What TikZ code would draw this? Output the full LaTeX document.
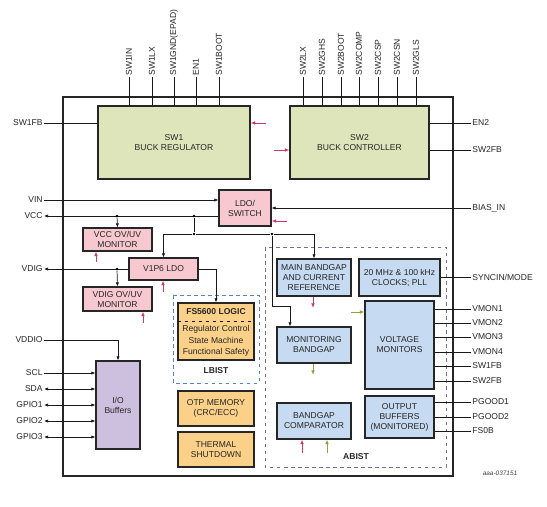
\documentclass[tikz,border=0pt]{standalone}
\usepackage{fontspec}
\setmainfont{Liberation Sans}
\usetikzlibrary{arrows.meta,positioning}
\definecolor{swgreen}{HTML}{DEE5BB}
\definecolor{ldopink}{HTML}{F7C8CF}
\definecolor{refblue}{HTML}{C6DAF1}
\definecolor{logicorange}{HTML}{FBD089}
\definecolor{iopurple}{HTML}{CDBFDE}
\definecolor{fltred}{HTML}{D0386C}
\definecolor{okgreen}{HTML}{939F3C}
\definecolor{lbistblue}{HTML}{4F86C2}
\definecolor{abistpurple}{HTML}{7E6A9E}

\begin{document}
\begin{tikzpicture}[x=0.03cm, y=-0.03cm, font=\fontsize{7.3}{8.6}\selectfont,
  box/.style 2 args={draw=black!85, line width=0.9pt, minimum width=#1*0.03cm,
    minimum height=#2*0.03cm, inner sep=0pt, align=center, text=black!85},
  pinlbl/.style={inner sep=1pt, text=black!85},
  ln/.style={draw=black!90, line width=0.6pt},
  arr/.style={ln, -{Latex[length=3.5pt,width=2.8pt]}},
  darr/.style={ln, {Latex[length=3.5pt,width=2.8pt]}-{Latex[length=3.5pt,width=2.8pt]}},
  redarr/.style={draw=fltred, line width=0.75pt, -{Latex[length=4pt,width=3.2pt]}},
  grnarr/.style={draw=okgreen, line width=0.75pt, -{Latex[length=4pt,width=3.2pt]}},
  dot/.style={circle, fill=black, inner sep=0.8pt}]
  \useasboundingbox (0,0) rectangle (547,507);

  % chip outline
  \draw[line width=1.1pt, black!85] (63,97) rectangle (453,476);

  % switcher blocks
  \node[box={152}{73}, fill=swgreen] (sw1) at (174,142.5) {SW1\\BUCK REGULATOR};
  \node[box={139}{73}, fill=swgreen] (sw2) at (359.5,142.5) {SW2\\BUCK CONTROLLER};

  % supply blocks
  \node[box={52}{36}, fill=ldopink] (ldo) at (245,208) {LDO/\\SWITCH};
  \node[box={69}{23}, fill=ldopink] (vccmon) at (117.5,239.5) {VCC OV/UV\\MONITOR};
  \node[box={69}{22}, fill=ldopink] (v1p6) at (163.5,269) {V1P6 LDO};
  \node[box={69}{24}, fill=ldopink] (vdigmon) at (117.5,299) {VDIG OV/UV\\MONITOR};

  % digital core
  \draw[lbistblue, dashed, line width=0.7pt] (173,295) rectangle (259,383);
  \node[box={76}{57}, fill=logicorange] (logic) at (216,331.5) {};
  \draw[ln, dashed, line width=0.8pt] (logic.west |- 0,321) -- (logic.east |- 0,321);
  \node[pinlbl, font=\fontsize{7.3}{8.6}\selectfont\bfseries] (logictitle) at (216,312) {FS5600 LOGIC};
  \node[pinlbl, align=center, font=\fontsize{7.3}{10}\selectfont] (logicbody) at (216,341)
    {Regulator Control\\State Machine\\Functional Safety};
  \node[pinlbl, font=\fontsize{7.3}{8.6}\selectfont\bfseries] (lbist) at (216,371) {LBIST};
  \node[box={76}{35}, fill=logicorange] (otp) at (216,408.5) {OTP MEMORY\\(CRC/ECC)};
  \node[box={76}{35}, fill=logicorange] (tsd) at (216,449.5) {THERMAL\\SHUTDOWN};

  % I/O
  \node[box={44}{88}, fill=iopurple] (io) at (118,405) {I/O\\Buffers};

  % analog BIST area
  \draw[abistpurple, dashed, line width=0.7pt] (265,247) rectangle (446,467);
  \node[pinlbl, font=\fontsize{7.3}{8.6}\selectfont\bfseries] (abist) at (356,457) {ABIST};
  \node[box={74}{37}, fill=refblue] (mainbg) at (314,277.5) {MAIN BANDGAP\\AND CURRENT\\REFERENCE};
  \node[box={81}{37}, fill=refblue] (clk) at (399.5,277.5) {20 MHz \& 100 kHz\\CLOCKS; PLL};
  \node[box={74}{36}, fill=refblue] (monbg) at (314,345) {MONITORING\\BANDGAP};
  \node[box={74}{36}, fill=refblue] (bgcomp) at (314,421) {BANDGAP\\COMPARATOR};
  \node[box={69}{88}, fill=refblue] (vmons) at (399.5,345) {VOLTAGE\\MONITORS};
  \node[box={69}{42}, fill=refblue] (outbuf) at (399.5,417) {OUTPUT\\BUFFERS\\(MONITORED)};

  % top pins
  \foreach \x/\t [count=\i] in {129/SW1IN, 152/SW1LX, 174/SW1GND(EPAD), 196/EN1, 219/SW1BOOT} {
    \node[pinlbl, rotate=90, anchor=west] (ta\i) at (\x,77) {\t};
    \draw[ln] (ta\i.west) -- (ta\i.west |- sw1.north);
  }
  \foreach \x/\t [count=\i] in {303/SW2LX, 322/SW2GHS, 341/SW2BOOT, 359/SW2COMP, 378/SW2CSP, 397/SW2CSN, 416/SW2GLS} {
    \node[pinlbl, rotate=90, anchor=west] (tb\i) at (\x,77) {\t};
    \draw[ln] (tb\i.west) -- (tb\i.west |- sw2.north);
  }

  % switcher side pins
  \node[pinlbl, anchor=east] (sw1fb) at (44,123) {SW1FB};
  \draw[ln] (sw1fb.east) -- (sw1fb.east -| sw1.west);
  \node[pinlbl, anchor=west] (en2) at (471,123) {EN2};
  \draw[ln] (en2.west) -- (en2.west -| sw2.east);
  \node[pinlbl, anchor=west] (sw2fb) at (471,150) {SW2FB};
  \draw[ln] (sw2fb.west) -- (sw2fb.west -| sw2.east);
  \coordinate (f1) at (266,123);
  \coordinate (f2) at (274,150);
  \draw[redarr] (f1) -- (f1 -| sw1.east);
  \draw[redarr] (f2) -- (f2 -| sw2.west);

  % supply path
  \node[pinlbl, anchor=east] (vin) at (44,200) {VIN};
  \draw[arr] (vin.east) -- (vin.east -| ldo.west);
  \node[pinlbl, anchor=east] (vcc) at (44,216) {VCC};
  \draw[arr] (vcc.east -| ldo.west) -- (vcc.east);
  \node[pinlbl, anchor=west] (biasin) at (471,208) {BIAS\_IN};
  \draw[arr] (biasin.west) -- (biasin.west -| ldo.east);
  \coordinate (f3) at (287,221);
  \draw[redarr] (f3) -- (f3 -| ldo.east);

  \node[dot] (d1) at (117,216) {};
  \node[dot] (d2) at (194,216) {};
  \node[dot] (d3) at (194,234) {};
  \node[dot] (d4) at (272,234) {};
  \draw[arr] (d1) -- (vccmon.north);
  \draw[ln] (d2) -- (d3);
  \draw[arr] (d3) -| (v1p6.north);
  \draw[ln] (d3) -- (d4);
  \draw[arr] (d4) -| (mainbg.north);
  \coordinate (mb) at (290,306);
  \draw[arr] (d4) |- (mb) -- (mb |- monbg.north);

  \node[pinlbl, anchor=east] (vdig) at (44,269) {VDIG};
  \draw[arr] (v1p6.west) -- (vdig.east);
  \node[dot] (d5) at (117,269) {};
  \draw[arr] (d5) -- (vdigmon.north);
  \draw[arr] (v1p6.east) -| (logic.north);

  \coordinate (f4) at (96,262);
  \coordinate (f5) at (163,292);
  \coordinate (f6) at (143,323);
  \draw[redarr] (f4) -- (f4 |- vccmon.south);
  \draw[redarr] (f5) -- (f5 |- v1p6.south);
  \draw[redarr] (f6) -- (f6 |- vdigmon.south);

  % I/O pins
  \node[pinlbl, anchor=east] (vddio) at (44,340) {VDDIO};
  \draw[arr] (vddio.east) -| (io.north);
  \node[pinlbl, anchor=east] (scl) at (44,373) {SCL};
  \draw[arr] (scl.east) -- (scl.east -| io.west);
  \foreach \y/\t [count=\i] in {389/SDA, 405/GPIO1, 421/GPIO2, 437/GPIO3} {
    \node[pinlbl, anchor=east] (gp\i) at (44,\y) {\t};
    \draw[darr] (gp\i.east) -- (gp\i.east -| io.west);
  }

  % ABIST status arrows
  \coordinate (f7) at (313,308);
  \coordinate (f8) at (313,375);
  \coordinate (f9) at (351,312);
  \coordinate (f10) at (302,453);
  \coordinate (f11) at (327,453);
  \draw[redarr] (f7 |- mainbg.south) -- (f7);
  \draw[grnarr] (f8 |- monbg.south) -- (f8);
  \draw[grnarr] (f9) -- (f9 -| vmons.west);
  \draw[redarr] (f10) -- (f10 |- bgcomp.south);
  \draw[grnarr] (f11) -- (f11 |- bgcomp.south);

  % right side pins
  \node[pinlbl, anchor=west] (sync) at (471,277) {SYNCIN/MODE};
  \draw[ln] (sync.west) -- (sync.west -| clk.east);
  \foreach \y/\t [count=\i] in {309/VMON1, 323/VMON2, 337/VMON3, 352/VMON4, 366/SW1FB, 381/SW2FB} {
    \node[pinlbl, anchor=west] (vm\i) at (471,\y) {\t};
    \draw[ln] (vm\i.west) -- (vm\i.west -| vmons.east);
  }
  \foreach \y/\t [count=\i] in {402/PGOOD1, 417/PGOOD2, 431/FS0B} {
    \node[pinlbl, anchor=west] (pg\i) at (471,\y) {\t};
    \draw[ln] (pg\i.west) -- (pg\i.west -| outbuf.east);
  }

  % drawing number
  \node[pinlbl, font=\fontsize{5.5}{6}\selectfont\itshape, text=black!75] (docnum) at (500,473) {aaa-037151};
\end{tikzpicture}
\end{document}
